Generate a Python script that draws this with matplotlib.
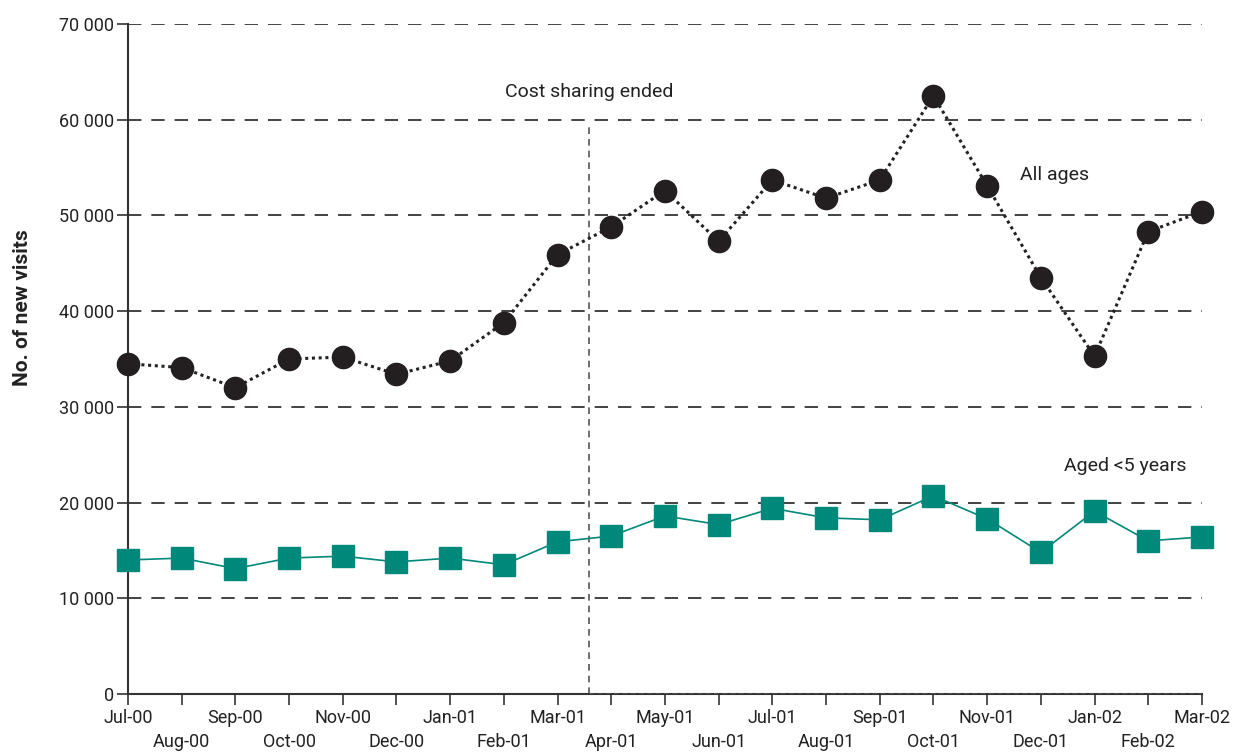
import matplotlib
matplotlib.use("Agg")
import matplotlib.pyplot as plt

months = ["Jul-00", "Aug-00", "Sep-00", "Oct-00", "Nov-00", "Dec-00",
          "Jan-01", "Feb-01", "Mar-01", "Apr-01", "May-01", "Jun-01",
          "Jul-01", "Aug-01", "Sep-01", "Oct-01", "Nov-01", "Dec-01",
          "Jan-02", "Feb-02", "Mar-02"]
all_ages = [34500, 34100, 32000, 35000, 35200, 33400, 34800, 38800, 45900,
            48800, 52600, 47300, 53700, 51800, 53700, 62500, 53100, 43500,
            35300, 48300, 50400]
under5 = [14000, 14200, 13100, 14200, 14400, 13800, 14200, 13500, 15900,
          16500, 18600, 17700, 19400, 18400, 18200, 20700, 18300, 14800,
          19100, 16000, 16400]
yticks = [0, 10000, 20000, 30000, 40000, 50000, 60000, 70000]
ytick_labels = ["0", "10 000", "20 000", "30 000", "40 000", "50 000",
                "60 000", "70 000"]

teal = "#00897a"
grey = "#333333"
plt.rcParams["font.family"] = ["Roboto", "DejaVu Sans"]

fig = plt.figure(figsize=(12.34, 7.54), dpi=100)
ax = fig.add_axes([0.1037, 0.0796, 0.8703, 0.8886])

x = list(range(len(months)))

# horizontal dashed grid
for v in yticks[1:]:
    ax.axhline(v, color="#222222", lw=1.2, dashes=(8, 6), zorder=1)

# cost sharing line
ax.plot([8.58, 8.58], [0, 59700], color="#555555", lw=1.2,
        dashes=(4, 3), zorder=1)
ax.plot([8.58, 20], [0, 0], color="#555555", lw=1.2, dashes=(3, 2), zorder=3)

ax.plot(x, all_ages, color="#222222", lw=2.2, ls=(0, (1, 1.2)),
        marker="o", ms=16, mfc="#231f20", mec="#231f20", zorder=4,
        clip_on=False)
ax.plot(x, under5, color=teal, lw=1.2, marker="s", ms=16,
        mfc=teal, mec=teal, zorder=4, clip_on=False)

ax.text(8.58, 62900, "Cost sharing ended", ha="center", va="center",
        fontsize=14, color="#222222")
ax.text(17.26, 54200, "All ages", ha="center", va="center",
        fontsize=14, color="#222222")
ax.text(18.58, 23800, "Aged <5 years", ha="center", va="center",
        fontsize=14, color="#222222")

ax.set_xlim(0, 20)
ax.set_ylim(0, 70000)
ax.set_yticks(yticks)
ax.set_yticklabels(ytick_labels)

ax.set_xticks(x[0::2])
ax.set_xticklabels(months[0::2])
ax.set_xticks(x[1::2], minor=True)
ax.set_xticklabels(months[1::2], minor=True)
ax.tick_params(axis="x", which="major", length=8, width=1.2, color=grey,
               pad=3, labelsize=13, labelcolor="#222222")
ax.tick_params(axis="x", which="minor", length=8, width=1.2, color=grey,
               pad=20, labelsize=13, labelcolor="#222222")
ax.tick_params(axis="y", length=8, width=1.2, color=grey, pad=2,
               labelsize=13, labelcolor="#222222")

for s in ["top", "right"]:
    ax.spines[s].set_visible(False)
for s in ["left", "bottom"]:
    ax.spines[s].set_color(grey)
    ax.spines[s].set_linewidth(1.5)

ax.set_ylabel("No. of new visits", fontsize=15, fontweight="bold",
              color="#222222")
ax.yaxis.set_label_coords(-0.089, 0.576)

fig.savefig("out.png", dpi=100)
